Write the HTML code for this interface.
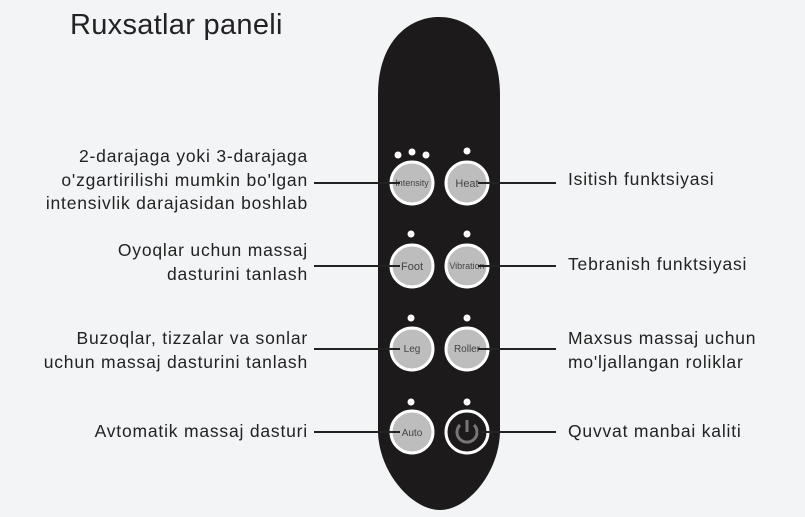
<!DOCTYPE html>
<html><head><style>
body{margin:0;width:805px;height:517px;background:#f3f4f6;position:relative;overflow:hidden;font-family:"Liberation Sans",sans-serif;color:#222}
.t{position:absolute;font-size:17.5px;line-height:23.5px;white-space:nowrap;letter-spacing:0.8px}
.l{right:497px;text-align:right}
.r{left:568px}
</style></head><body>
<div class="t" style="left:70px;top:8px;font-size:29px;line-height:34px;letter-spacing:0.3px">Ruxsatlar paneli</div>
<div class="t l" style="top:145px">2-darajaga yoki 3-darajaga<br>o'zgartirilishi mumkin bo'lgan<br>intensivlik darajasidan boshlab</div>
<div class="t l" style="top:239px">Oyoqlar uchun massaj<br>dasturini tanlash</div>
<div class="t l" style="top:327px">Buzoqlar, tizzalar va sonlar<br>uchun massaj dasturini tanlash</div>
<div class="t l" style="top:420px">Avtomatik massaj dasturi</div>
<div class="t r" style="top:168px">Isitish funktsiyasi</div>
<div class="t r" style="top:253px">Tebranish funktsiyasi</div>
<div class="t r" style="top:327px">Maxsus massaj uchun<br>mo'ljallangan roliklar</div>
<div class="t r" style="top:420px">Quvvat manbai kaliti</div>
<svg width="805" height="517" style="position:absolute;left:0;top:0">
<path d="M378,95 C378,40 410,17 439,17 C470,17 500,42 500,95 L500,430 C500,472 468,510 440,510 C412,510 378,472 378,430 Z" fill="#1c1a1b"/>
<g fill="#fff">
<circle cx="398" cy="155" r="3.5"/><circle cx="412" cy="152" r="3.5"/><circle cx="426" cy="155" r="3.5"/>
<circle cx="467" cy="151" r="3.5"/>
<circle cx="411" cy="234" r="3.5"/><circle cx="467" cy="234" r="3.5"/>
<circle cx="411" cy="318" r="3.5"/><circle cx="467" cy="318" r="3.5"/>
<circle cx="411" cy="402" r="3.5"/><circle cx="467" cy="402" r="3.5"/>
</g>
<g stroke="#fff" stroke-width="3" fill="#bdbdbd">
<circle cx="412" cy="183" r="21"/><circle cx="467" cy="183" r="21"/>
<circle cx="412" cy="266" r="21"/><circle cx="467" cy="266" r="21"/>
<circle cx="412" cy="349" r="21"/><circle cx="467" cy="349" r="21"/>
<circle cx="412" cy="432" r="21"/>
</g>
<circle cx="467" cy="432" r="21" stroke="#fff" stroke-width="3" fill="#1c1a1b"/>
<path d="M460,425 A10,10 0 1 0 474,425" stroke="#777" stroke-width="3" fill="none"/>
<line x1="467" y1="420" x2="467" y2="432" stroke="#777" stroke-width="3"/>
<g font-family="Liberation Sans" font-size="9" fill="#444" text-anchor="middle">
<text x="412" y="186">Intensity</text><text x="467" y="187" font-size="11">Heat</text>
<text x="412" y="270" font-size="11">Foot</text><text x="467" y="269">Vibration</text>
<text x="412" y="352" font-size="10">Leg</text><text x="467" y="352" font-size="10">Roller</text>
<text x="412" y="436" font-size="10">Auto</text>
</g>
<g stroke="#222" stroke-width="2">
<line x1="314" y1="183" x2="400" y2="183"/><line x1="314" y1="266" x2="400" y2="266"/>
<line x1="314" y1="349" x2="400" y2="349"/><line x1="314" y1="432" x2="400" y2="432"/>
<line x1="478" y1="183" x2="556" y2="183"/><line x1="478" y1="266" x2="556" y2="266"/>
<line x1="478" y1="349" x2="556" y2="349"/><line x1="478" y1="432" x2="556" y2="432"/>
</g>
</svg>
</body></html>
